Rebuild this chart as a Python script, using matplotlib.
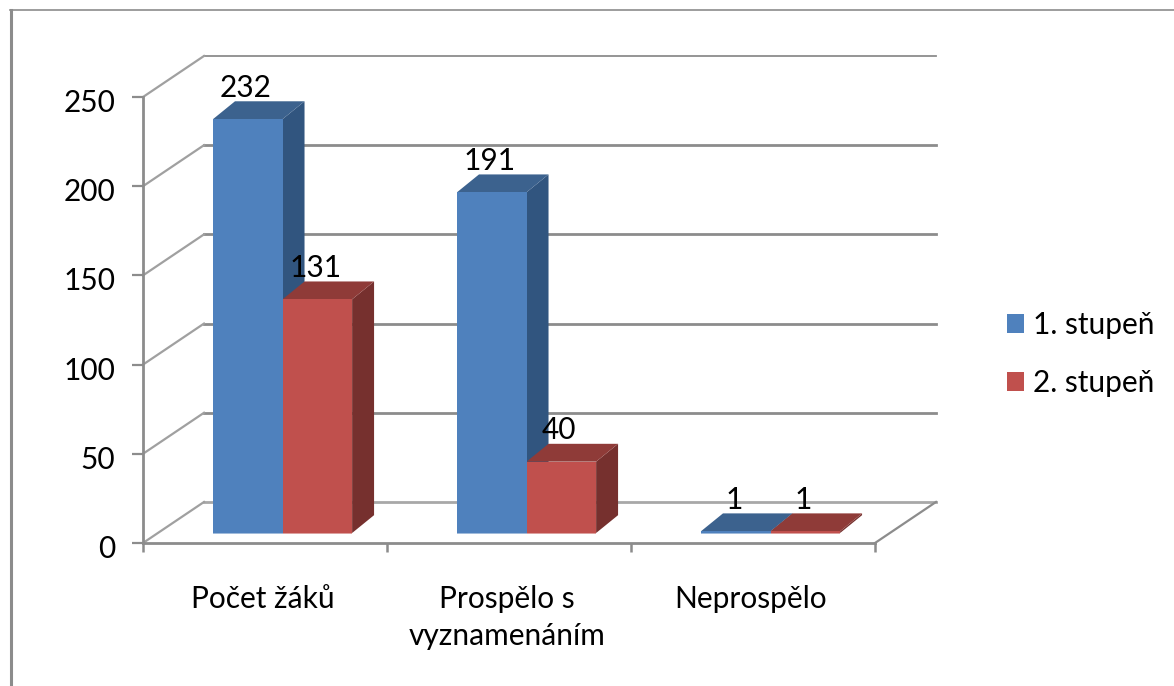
import matplotlib
matplotlib.use('Agg')
import matplotlib.pyplot as plt
from matplotlib.lines import Line2D
from matplotlib.patches import Patch, Polygon
from matplotlib.transforms import ScaledTranslation

categories = ['Počet žáků', 'Prospělo s\nvyznamenáním', 'Neprospělo']
series_names = ['1. stupeň', '2. stupeň']
stupen_1 = [232, 191, 1]
stupen_2 = [131, 40, 1]
y_ticks = [0, 50, 100, 150, 200, 250]

W, H = 1174, 686
GRAY = '#8c8c8c'
FONT_SIZE = 21.5
# face, top and side colours of each series
BLUE = ('#4f81bd', '#3c628e', '#31557f')
RED = ('#c0504d', '#8f3b38', '#76302e')

# depth of the fake 3D box and of the bars, in data units
WALL_DX, WALL_DY = 0.25, 23.0
BAR_DX, BAR_DY = 0.09, 10.0
BAR_BASE = 5.6
BAR_W = 0.285
GAP = 0.287
LABEL_SHIFT = 0.008

plt.rcParams['font.family'] = ['Lato', 'DejaVu Sans']

fig = plt.figure(figsize=(W / 100, H / 100), dpi=100)
ax = fig.add_axes([143 / W, (H - 543) / H, 732 / W, 446 / H])
ax.set_xlim(0, 3)
ax.set_ylim(0, 250)
ax.patch.set_visible(False)

# outer chart frame, only left and top are visible
fig.add_artist(Line2D([11 / W, 11 / W], [0, 1 - 10 / H], color=GRAY, lw=2.2))
fig.add_artist(Line2D([10 / W, 1], [1 - 10 / H, 1 - 10 / H], color=GRAY, lw=1.2))


def draw_bar(x, value, colors):
    """Draw one box: front face, top and right side."""
    face, top, side = colors
    y0 = BAR_BASE
    y1 = BAR_BASE + value
    x1 = x + BAR_W
    ax.add_patch(Polygon([(x1, y0), (x1 + BAR_DX, y0 + BAR_DY), (x1 + BAR_DX, y1 + BAR_DY), (x1, y1)],
                         fc=side, ec='none', clip_on=False, zorder=3))
    ax.add_patch(Polygon([(x, y1), (x1, y1), (x1 + BAR_DX, y1 + BAR_DY), (x + BAR_DX, y1 + BAR_DY)],
                         fc=top, ec='none', clip_on=False, zorder=3))
    ax.add_patch(Polygon([(x, y0), (x1, y0), (x1, y1), (x, y1)],
                         fc=face, ec='none', clip_on=False, zorder=4))
    # pale line along the bottom edge
    ax.plot([x, x1], [y0, y0], color=face, alpha=0.55, lw=1.4, clip_on=False, zorder=5,
            solid_capstyle='butt')
    ax.text(x + BAR_W / 2 - LABEL_SHIFT, y1 + BAR_DY - 0.3, str(value), ha='center', va='bottom',
            fontsize=FONT_SIZE, color='black', zorder=6)


# back wall and side wall lines
for v in y_ticks:
    line_color = '#a8a8a8' if v == 0 else GRAY
    ax.plot([WALL_DX, 3 + WALL_DX], [v + WALL_DY, v + WALL_DY], color=line_color,
            lw=1.3 if v == 250 else 2.0, clip_on=False, zorder=1)
    ax.plot([0, WALL_DX], [v, v + WALL_DY], color='#a0a0a0', lw=1.6, clip_on=False, zorder=1)
ax.plot([3, 3 + WALL_DX], [0, WALL_DY], color=GRAY, lw=1.6, clip_on=False, zorder=1)

for i in range(len(categories)):
    draw_bar(i + GAP, stupen_1[i], BLUE)
    draw_bar(i + GAP + BAR_W, stupen_2[i], RED)

# axes
for name in ('top', 'right'):
    ax.spines[name].set_visible(False)
for name in ('left', 'bottom'):
    ax.spines[name].set_color(GRAY)
    ax.spines[name].set_linewidth(2.0)

ax.set_yticks(y_ticks)
ax.tick_params(axis='y', length=8, width=1.6, color=GRAY, pad=12, labelsize=FONT_SIZE)
# digits sit a bit lower than the ticks in the original
for label in ax.get_yticklabels():
    label.set_transform(label.get_transform() + ScaledTranslation(0, -2.5 / 72, fig.dpi_scale_trans))
ax.set_xticks([0, 1, 2, 3])
ax.set_xticklabels([])
ax.tick_params(axis='x', which='major', length=6.5, width=1.8, color=GRAY)
ax.set_xticks([0.5 - LABEL_SHIFT, 1.5 - LABEL_SHIFT, 2.5 - LABEL_SHIFT], minor=True)
ax.set_xticklabels(categories, minor=True, fontsize=FONT_SIZE, linespacing=1.4)
ax.tick_params(axis='x', which='minor', length=0, pad=30)

handles = [Patch(fc=BLUE[0], ec='none', label=series_names[0]),
           Patch(fc=RED[0], ec='none', label=series_names[1])]
ax.legend(handles=handles, frameon=False, fontsize=FONT_SIZE, handlelength=0.57, handleheight=0.63,
          handletextpad=0.3, labelspacing=1.0, borderpad=0, borderaxespad=0,
          loc='upper left', bbox_to_anchor=((1007 - 143) / 732, (543 - 311) / 446))

fig.savefig('out.png', dpi=100)
